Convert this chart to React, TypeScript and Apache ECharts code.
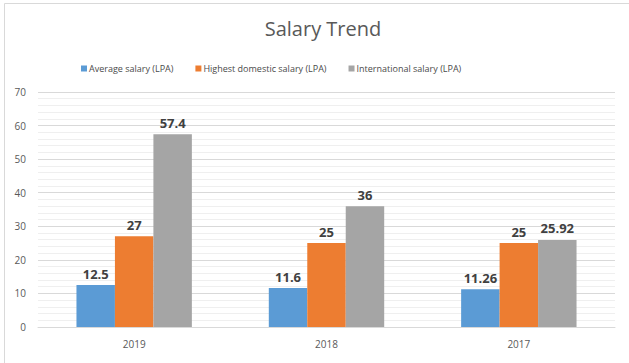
import React, { useEffect, useRef } from "react";
import * as echarts from "echarts";

const categories = ["2019", "2018", "2017"];
const averageSalary = [12.5, 11.6, 11.26];
const highestDomestic = [27, 25, 25];
const internationalSalary = [57.4, 36, 25.92];
const seriesNames = [
  "Average salary (LPA)",
  "Highest domestic salary (LPA)",
  "International salary (LPA)",
];
const colors = ["#5b9bd5", "#ed7d31", "#a5a5a5"];

export default function App() {
  const ref = useRef<HTMLDivElement>(null);
  useEffect(() => {
    if (!ref.current) return;
    const chart = echarts.init(ref.current, null, { renderer: "svg" });
    const font = "'Open Sans', 'Noto Sans', sans-serif";
    const label = {
      show: true,
      position: "top",
      distance: 5,
      fontWeight: "bold",
      fontSize: 13,
      color: "#404040",
      fontFamily: font,
    };
    const datasets = [averageSalary, highestDomestic, internationalSalary];
    chart.setOption({
      animation: false,
      backgroundColor: "#ffffff",
      color: colors,
      title: {
        text: "Salary Trend",
        left: 318,
        textAlign: "center",
        top: 13,
        textStyle: {
          fontSize: 20,
          fontWeight: "normal",
          color: "#595959",
          fontFamily: font,
        },
      },
      legend: {
        top: 59,
        left: 76,
        itemWidth: 6,
        itemHeight: 6,
        itemGap: 22,
        icon: "rect",
        textStyle: { fontSize: 9, color: "#4a4a4a", fontFamily: font, padding: [0, 0, 0, -3] },
        data: seriesNames,
      },
      graphic: [
        {
          type: "rect",
          shape: { x: 4.5, y: 3.5, width: 640, height: 380 },
          style: { fill: "none", stroke: "#d9d9d9", lineWidth: 1 },
          silent: true,
        },
      ],
      grid: { left: 38, right: 14, top: 92, bottom: 36, containLabel: false },
      xAxis: {
        type: "category",
        data: categories,
        axisLine: { lineStyle: { color: "#d9d9d9" } },
        axisTick: { show: false },
        axisLabel: { fontSize: 10, color: "#595959", fontFamily: font, margin: 12 },
      },
      yAxis: {
        type: "value",
        min: 0,
        max: 70,
        interval: 10,
        axisLine: { show: false },
        axisTick: { show: false },
        axisLabel: { fontSize: 10, color: "#595959", fontFamily: font, margin: 12 },
        splitLine: { lineStyle: { color: "#d9d9d9" } },
        minorTick: { show: false, splitNumber: 5 },
        minorSplitLine: { show: true, lineStyle: { color: "#efefef" } },
      },
      series: datasets.map((d, i) => ({
        name: seriesNames[i],
        type: "bar",
        data: d,
        barGap: "0%",
        barCategoryGap: "40%",
        label,
        itemStyle: { color: colors[i] },
      })),
    });
    return () => chart.dispose();
  }, []);
  return (
    <div
      ref={ref}
      style={{ position: "fixed", left: 0, top: 0, width: 629, height: 363 }}
    />
  );
}
